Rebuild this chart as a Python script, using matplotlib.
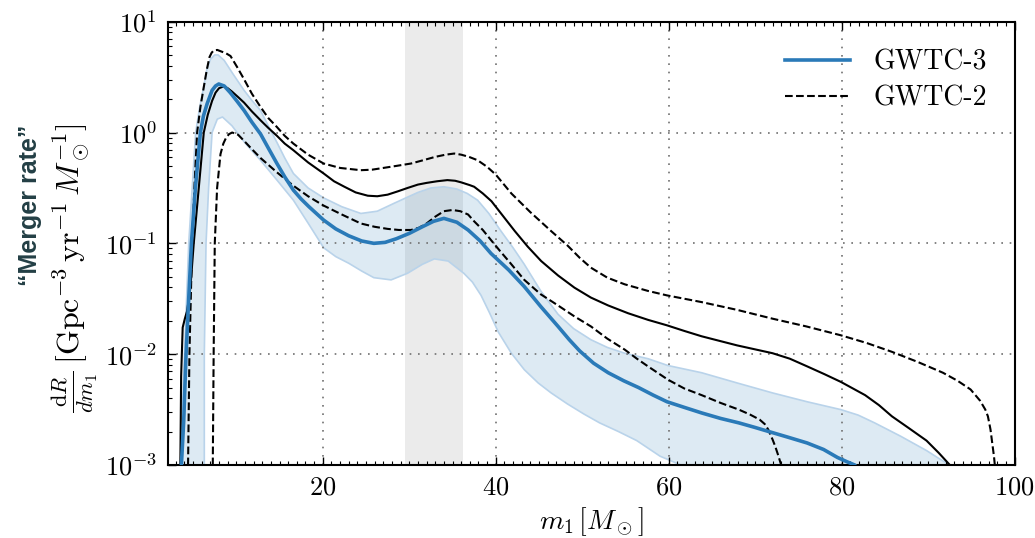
import numpy as np
import matplotlib
matplotlib.use("Agg")
import matplotlib.pyplot as plt
from matplotlib.ticker import MultipleLocator, LogLocator, NullFormatter

plt.rcParams['mathtext.fontset'] = 'cm'
plt.rcParams['font.family'] = 'serif'
plt.rcParams['font.serif'] = ['cmr10', 'DejaVu Serif']
plt.rcParams['axes.formatter.use_mathtext'] = True

# GWTC-3 median
m3_med_x = [3.60, 3.65, 3.92, 4.19, 4.50, 4.81, 5.27, 5.85, 6.2, 6.63, 7.2, 7.6, 7.97, 8.6, 9.3, 10.1,
            10.9, 11.8, 12.8, 13.7, 14.7, 15.6, 16.6, 17.5, 18.4, 20.1, 21.5, 23.0, 24.5, 25.9, 27.2,
            28.5, 30.0, 31.5, 32.8, 34.0, 35.5, 36.8, 38.2, 39.45, 41.5, 43.3, 45.2, 47.2, 48.5, 49.7,
            51.3, 53.0, 54.8, 56.5, 58.2, 59.8, 61.8, 63.8, 66.0, 68.1, 69.9, 71.6, 73.8, 76.0, 77.9,
            79.5, 80.6, 81.5, 82.3]
m3_med_y = [0.00079, 0.001, 0.0025, 0.01, 0.032, 0.1, 0.316, 1.0, 1.41, 1.82, 2.40, 2.63, 2.74, 2.63, 2.29,
            1.91, 1.58, 1.24, 0.97, 0.724, 0.525, 0.398, 0.302, 0.251, 0.214, 0.162, 0.135, 0.117, 0.105,
            0.100, 0.102, 0.110, 0.123, 0.141, 0.158, 0.168, 0.155, 0.132, 0.105, 0.081, 0.0575, 0.0407,
            0.0269, 0.0178, 0.0135, 0.0107, 0.0083, 0.0068, 0.00575, 0.0050, 0.00427, 0.00372, 0.00331,
            0.00295, 0.00263, 0.0024, 0.00219, 0.0020, 0.00178, 0.00158, 0.00138, 0.00117, 0.00107, 0.001,
            0.00083]

# GWTC-3 90% band, upper and lower edges
m3_hi_x = [3.50, 3.55, 4.0, 4.5, 4.9, 5.3, 5.75, 6.2, 6.6, 7.0, 7.5, 7.9, 8.6, 9.6, 10.9, 11.8, 12.8,
           13.7, 14.7, 15.6, 16.6, 18.3, 20.1, 22.2, 24.4, 26.3, 28.2, 29.6, 31.0, 32.5, 34.0, 35.5,
           36.7, 37.9, 39.2, 40.6, 42.0, 43.3, 45.2, 47.2, 49.0, 51.0, 52.9, 54.9, 57.6, 59.9, 63.8,
           67.9, 72.0, 76.0, 79.9, 81.9, 83.8, 86.8, 89.8, 91.2, 92.5, 93.3]
m3_hi_y = [0.0005, 0.001, 0.01, 0.1, 0.316, 1.0, 1.66, 2.51, 3.72, 4.57, 5.01, 5.01, 4.47, 3.39, 2.40,
           1.95, 1.58, 1.15, 0.813, 0.589, 0.427, 0.316, 0.257, 0.214, 0.186, 0.195, 0.229, 0.257, 0.288,
           0.316, 0.324, 0.309, 0.282, 0.245, 0.186, 0.129, 0.0912, 0.0646, 0.0372, 0.0229, 0.0170,
           0.0135, 0.0115, 0.0102, 0.0091, 0.0079, 0.0068, 0.0055, 0.00447, 0.00372, 0.00316, 0.00282,
           0.0024, 0.00182, 0.00135, 0.00115, 0.001, 0.00079]
m3_lo_x = [6.3, 6.3, 6.5, 6.8, 7.2, 7.8, 8.4, 9.5, 11.07, 12.8, 14.7, 16.6, 18.4, 20.1, 21.5, 23.0,
           24.5, 25.9, 27.9, 29.8, 31.5, 32.9, 34.5, 36.3, 37.3, 38.3, 39.3, 40.3, 41.8, 43.3, 44.9,
           46.4, 48.3, 50.2, 52.0, 54.2, 56.3, 59.0, 61.4, 62.5]
m3_lo_y = [0.0005, 0.01, 0.1, 0.316, 1.0, 1.32, 1.38, 1.15, 0.794, 0.562, 0.372, 0.245, 0.148, 0.0912,
           0.0759, 0.0661, 0.0562, 0.049, 0.0468, 0.0537, 0.0646, 0.0724, 0.0692, 0.0537, 0.0447, 0.0339,
           0.0234, 0.0158, 0.0102, 0.00724, 0.0055, 0.00447, 0.00355, 0.00288, 0.0024, 0.0020, 0.00166,
           0.0012, 0.001, 0.00079]

# GWTC-2 median
m2_med_x = [3.45, 3.53, 3.62, 3.80, 4.05, 4.31, 4.69, 5.08, 5.66, 6.24, 6.7, 7.2, 7.6, 8.0, 8.55, 9.0,
            9.5, 10.2, 10.9, 11.8, 12.8, 13.7, 14.7, 15.6, 16.6, 18.3, 20.1, 21.3, 22.5, 23.8, 25.2,
            26.3, 27.5, 28.7, 29.8, 31.0, 32.0, 33.2, 34.4, 35.3, 36.0, 37.0, 37.5, 38.5, 39.5, 40.8,
            42.2, 43.7, 45.25, 47.2, 49.1, 51.0, 53.0, 55.3, 57.6, 59.8, 61.8, 63.8, 67.9, 72.0, 74.0,
            76.0, 78.0, 79.9, 82.7, 84.3, 85.8, 87.8, 89.8, 91.2, 92.5, 93.0]
m2_med_y = [0.00079, 0.001, 0.0063, 0.0174, 0.0209, 0.0245, 0.0398, 0.1, 0.316, 1.0, 1.445, 1.93, 2.29,
            2.51, 2.61, 2.51, 2.34, 2.09, 1.86, 1.55, 1.29, 1.10, 0.933, 0.794, 0.692, 0.537, 0.427, 0.363,
            0.324, 0.288, 0.269, 0.266, 0.275, 0.295, 0.316, 0.339, 0.351, 0.363, 0.372, 0.367, 0.355,
            0.335, 0.324, 0.282, 0.240, 0.178, 0.129, 0.0933, 0.0692, 0.0513, 0.0398, 0.0324, 0.0275,
            0.0234, 0.0204, 0.0182, 0.0162, 0.0145, 0.0120, 0.0102, 0.0091, 0.00776, 0.0066, 0.00562,
            0.00427, 0.00347, 0.00275, 0.00214, 0.00166, 0.00129, 0.001, 0.00083]

# GWTC-2 90% bounds
m2_hi_x = [4.35, 4.42, 4.58, 4.89, 5.15, 5.47, 5.85, 6.24, 6.6, 6.9, 7.15, 7.39, 7.8, 8.3, 8.8, 9.33,
           10.1, 10.9, 11.8, 12.8, 13.7, 14.7, 15.6, 16.6, 18.3, 20.1, 22.0, 24.4, 25.7, 27.0, 28.6,
           30.2, 31.6, 33.0, 34.2, 35.2, 36.0, 36.9, 37.9, 39.0, 40.0, 41.8, 44.0, 46.4, 48.3, 49.7,
           51.0, 52.9, 54.9, 57.6, 59.8, 63.8, 67.9, 72.0, 75.9, 79.9, 82.9, 85.8, 88.8, 91.7, 93.4,
           94.9, 96.0, 96.6, 96.9, 97.2, 97.4, 97.6, 97.7, 97.75]
m2_hi_y = [0.00079, 0.001, 0.01, 0.1, 0.316, 1.0, 1.70, 2.57, 3.72, 4.79, 5.25, 5.50, 5.56, 5.37, 5.19,
           4.90, 3.89, 3.02, 2.24, 1.70, 1.35, 1.12, 0.933, 0.794, 0.631, 0.525, 0.479, 0.457, 0.462,
           0.479, 0.501, 0.525, 0.562, 0.603, 0.631, 0.646, 0.631, 0.603, 0.562, 0.490, 0.417, 0.282,
           0.191, 0.129, 0.0955, 0.0741, 0.0603, 0.049, 0.0427, 0.0372, 0.0339, 0.0295, 0.0251, 0.0209,
           0.0178, 0.0148, 0.0126, 0.0105, 0.0085, 0.0068, 0.00575, 0.0048, 0.0038, 0.00316, 0.00275,
           0.00209, 0.00158, 0.0012, 0.001, 0.00079]
m2_lo_x = [7.25, 7.28, 7.38, 7.51, 7.78, 8.17, 8.5, 8.8, 9.15, 9.52, 10.2, 10.9, 11.8, 12.8, 14.7, 16.6,
           18.3, 20.1, 22.2, 24.4, 26.0, 27.5, 28.8, 30.2, 31.1, 32.0, 33.0, 34.0, 35.0, 35.9, 36.8,
           37.5, 38.5, 39.45, 40.5, 41.6, 43.3, 45.2, 47.2, 49.1, 51.0, 52.9, 54.9, 56.3, 57.6, 59.9,
           61.8, 63.8, 66.0, 68.1, 69.4, 70.5, 71.1, 71.5, 72.0, 72.3, 72.6, 73.0, 73.1]
m2_lo_y = [0.00079, 0.001, 0.01, 0.1, 0.316, 0.638, 0.794, 0.891, 0.966, 1.0, 0.955, 0.841, 0.708, 0.589,
           0.437, 0.331, 0.266, 0.219, 0.182, 0.151, 0.141, 0.135, 0.132, 0.132, 0.138, 0.151, 0.174,
           0.195, 0.200, 0.195, 0.182, 0.158, 0.132, 0.107, 0.0851, 0.0676, 0.0468, 0.0347, 0.0275,
           0.0219, 0.0178, 0.0138, 0.011, 0.00912, 0.00776, 0.00589, 0.0049, 0.00427, 0.00363, 0.00316,
           0.00285, 0.00257, 0.00234, 0.00209, 0.0017, 0.00148, 0.00126, 0.001, 0.00079]

gap_lo, gap_hi = 29.5, 36.2

fig = plt.figure(figsize=(10.35, 5.38), dpi=100)
ax = fig.add_axes([0.1623, 0.1357, 0.8181, 0.824])

ax.axvspan(gap_lo, gap_hi, color='#ebebeb', lw=0, zorder=0)

band_x = m3_hi_x + m3_lo_x[::-1]
band_y = m3_hi_y + m3_lo_y[::-1]
ax.fill(band_x, band_y, facecolor='#1f77b4', alpha=0.15, edgecolor='none', zorder=1)
ax.plot(m3_hi_x, m3_hi_y, color='#b9d3ea', lw=1.2, zorder=1)
ax.plot(m3_lo_x, m3_lo_y, color='#b9d3ea', lw=1.2, zorder=1)

ax.plot(m2_med_x, m2_med_y, color='k', lw=1.5, zorder=3)
ax.plot(m2_hi_x, m2_hi_y, color='k', lw=1.5, ls='--', zorder=3, label='GWTC-2')
ax.plot(m2_lo_x, m2_lo_y, color='k', lw=1.5, ls='--', zorder=3)
ax.plot(m3_med_x, m3_med_y, color='#2a7ab8', lw=2.6, zorder=4, label='GWTC-3')

ax.set_yscale('log')
ax.set_xlim(2.1, 100)
ax.set_ylim(1e-3, 10)

ax.xaxis.set_major_locator(MultipleLocator(20))
ax.xaxis.set_minor_locator(MultipleLocator(1))
ax.yaxis.set_major_locator(LogLocator(base=10, numticks=10))
ax.yaxis.set_minor_locator(LogLocator(base=10, subs=np.arange(2, 10), numticks=20))
ax.yaxis.set_minor_formatter(NullFormatter())
ax.tick_params(which='both', direction='in', top=True, right=False, labelsize=19, pad=8)
ax.tick_params(which='major', length=6, width=1)
ax.tick_params(which='minor', length=3, width=0.8)
for s in ax.spines.values():
    s.set_linewidth(1.5)

ax.grid(True, which='major', color='#707070', lw=1.2, linestyle=(0, (1, 4)))

handles, labels = ax.get_legend_handles_labels()
ax.legend(handles[::-1], labels[::-1], loc='upper right', frameon=False, fontsize=20,
          handlelength=2.35, handletextpad=0.85, borderaxespad=0.6, labelspacing=0.35)

ax.set_xlabel(r'$m_1\,[M_\odot]$', fontsize=20, labelpad=4)
fig.text(75 / 1035, 1 - 268 / 538,
         r'$\frac{\mathrm{d}R}{dm_1}\,[\mathrm{Gpc}^{-3}\,\mathrm{yr}^{-1}\,M_\odot^{-1}]$',
         rotation=90, ha='center', va='center', fontsize=23)
fig.text(30 / 1035, 1 - 205 / 538, '\u201cMerger rate\u201d', rotation=90, ha='center', va='center',
         fontsize=18, fontweight='bold', family='Liberation Sans', color='#233f45')

fig.savefig('out.png', dpi=100)
